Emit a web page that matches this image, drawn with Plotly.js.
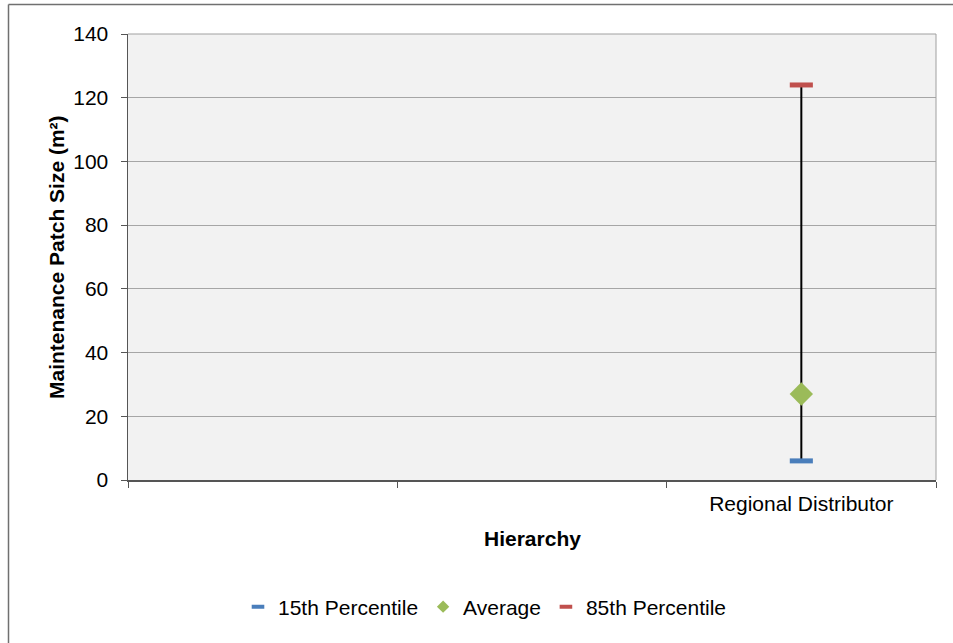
<!DOCTYPE html>
<html>
<head>
<meta charset="utf-8">
<script src="https://cdn.plot.ly/plotly-3.0.1.min.js"></script>
<style>html,body{margin:0;padding:0;background:#fff;}#chart{width:953px;height:643px;}</style>
</head>
<body>
<div id="chart"></div>
<script>
const categories = [" ", "  ", "Regional Distributor"];
const dataCategories = ["Regional Distributor"];
const p15 = [6];
const average = [27];
const p85 = [124];
const yTicks = [0, 20, 40, 60, 80, 100, 120, 140];
const seriesNames = ["15th Percentile", "Average", "85th Percentile"];

const W = 953, H = 643, L = 128, R = 17, T = 34, B = 163;
const pw = W - L - R, ph = H - T - B;
const px = x => (x - L) / pw;
const py = y => (H - B - y) / ph;

const font = "Liberation Sans, Arial, sans-serif";
const FS = 21;
const blue = "#4a7ebb", green = "#9bbb59", red = "#c0504d";

const traces = [
  {
    x: [dataCategories[0], dataCategories[0]],
    y: [p15[0], p85[0]],
    mode: "lines",
    line: {color: "#000000", width: 2},
    showlegend: false,
    hoverinfo: "skip"
  },
  {
    name: seriesNames[0], x: dataCategories, y: p15, mode: "markers", showlegend: false,
    marker: {symbol: "line-ew", size: 16.5, color: blue, line: {color: blue, width: 5}}
  },
  {
    name: seriesNames[1], x: dataCategories, y: average, mode: "markers", showlegend: false,
    marker: {symbol: "diamond", size: 18, color: green, line: {width: 0}}
  },
  {
    name: seriesNames[2], x: dataCategories, y: p85, mode: "markers", showlegend: false,
    marker: {symbol: "line-ew", size: 16.5, color: red, line: {color: red, width: 5}}
  },
  // legend entries (smaller symbols, like the reference legend)
  {
    name: seriesNames[0], x: [null], y: [null], mode: "markers",
    marker: {symbol: "line-ew", size: 9, color: blue, line: {color: blue, width: 4}}
  },
  {
    name: seriesNames[1], x: [null], y: [null], mode: "markers",
    marker: {symbol: "diamond", size: 9.5, color: green, line: {width: 0}}
  },
  {
    name: seriesNames[2], x: [null], y: [null], mode: "markers",
    marker: {symbol: "line-ew", size: 9, color: red, line: {color: red, width: 4}}
  }
];

const layout = {
  width: W, height: H,
  margin: {l: L, r: R, t: T, b: B, pad: 0},
  paper_bgcolor: "#ffffff",
  plot_bgcolor: "#f2f2f2",
  font: {family: font, size: FS, color: "#000000"},
  xaxis: {
    type: "category",
    categoryorder: "array",
    categoryarray: categories,
    range: [-0.5, 2.5],
    tickson: "boundaries",
    ticks: "outside", ticklen: 6, tickcolor: "#555555", tickwidth: 1,
    ticklabelstandoff: 4,
    showline: true, linecolor: "#555555", linewidth: 1.5,
    showgrid: false, zeroline: false,
    tickfont: {family: font, size: FS, color: "#000000"},
    fixedrange: true
  },
  yaxis: {
    range: [0, 140],
    tickmode: "array", tickvals: yTicks,
    ticks: "outside", ticklen: 6, tickcolor: "#555555", tickwidth: 1,
    ticklabelstandoff: 8,
    showline: true, linecolor: "#555555", linewidth: 1.5,
    showgrid: true, gridcolor: "#a6a6a6", gridwidth: 1,
    zeroline: false,
    tickfont: {family: font, size: FS, color: "#000000"},
    fixedrange: true
  },
  showlegend: true,
  legend: {
    orientation: "h",
    x: px(485), y: py(607), xanchor: "center", yanchor: "middle",
    font: {family: font, size: FS, color: "#000000"},
    itemwidth: 30,
    tracegroupgap: 0,
    bgcolor: "rgba(0,0,0,0)"
  },
  annotations: [
    {
      text: "<b>Hierarchy</b>", xref: "paper", yref: "paper",
      x: px(532), y: py(538), xanchor: "center", yanchor: "middle",
      showarrow: false, font: {family: font, size: FS, color: "#000000"}
    },
    {
      text: "<b>Maintenance Patch Size (m²)</b>", xref: "paper", yref: "paper",
      x: px(56), y: py(257), xanchor: "center", yanchor: "middle",
      textangle: -90,
      showarrow: false, font: {family: font, size: FS, color: "#000000"}
    }
  ],
  shapes: [
    {type: "line", xref: "paper", yref: "paper", x0: 0, x1: 1, y0: 1, y1: 1, line: {color: "#a0a0a0", width: 1}},
    {type: "line", xref: "paper", yref: "paper", x0: 1, x1: 1, y0: 0, y1: 1, line: {color: "#a0a0a0", width: 1}},
    {type: "line", xref: "paper", yref: "paper", x0: px(8.5), x1: px(8.5), y0: py(4.5), y1: py(643), line: {color: "#707070", width: 1.5}},
    {type: "line", xref: "paper", yref: "paper", x0: px(8.5), x1: px(953), y0: py(4.5), y1: py(4.5), line: {color: "#707070", width: 1.5}}
  ]
};

Plotly.newPlot("chart", traces, layout, {displayModeBar: false, staticPlot: true});
</script>
</body>
</html>
